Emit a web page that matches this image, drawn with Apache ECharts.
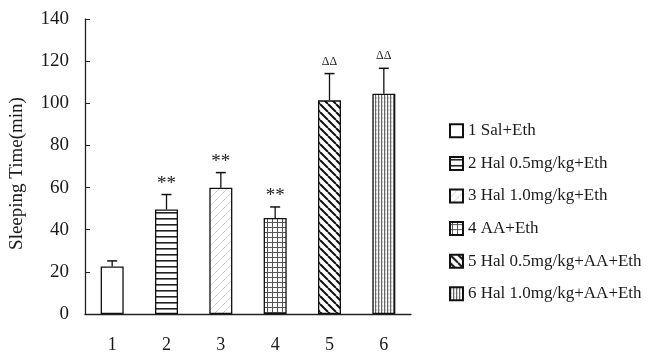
<!DOCTYPE html>
<html><head><meta charset="utf-8">
<script src="https://cdn.jsdelivr.net/npm/echarts@6/dist/echarts.min.js"></script>
<style>html,body{margin:0;padding:0;background:#fff}#c{width:651px;height:354px}</style>
</head><body><div id="c"></div>
<script>
var categories = ['1','2','3','4','5','6'];
var groupNames = ['1 Sal+Eth','2 Hal 0.5mg/kg+Eth','3 Hal 1.0mg/kg+Eth','4 AA+Eth','5 Hal 0.5mg/kg+AA+Eth','6 Hal 1.0mg/kg+AA+Eth'];
var means = [22.6, 49.6, 59.9, 45.6, 101.4, 104.5];
var errors = [2.6, 7.1, 7.2, 5.2, 12.7, 12.1];
var marks = ['', '**', '**', '**', '\u0394\u0394', '\u0394\u0394'];
var yTicks = {min: 0, max: 140, interval: 20};

function pat(size, draw) {
  var c = document.createElement('canvas');
  c.width = size[0]; c.height = size[1];
  var g = c.getContext('2d');
  g.fillStyle = '#fff'; g.fillRect(0, 0, size[0], size[1]);
  draw(g, size[0], size[1]);
  return {image: c, repeat: 'repeat'};
}
var fills = [
  '#ffffff',
  pat([6, 6], function (g, w, h) { g.fillStyle = '#222'; g.fillRect(0, 2, w, 1.6); }),
  pat([8, 8], function (g, w, h) {
    g.strokeStyle = '#b5b5b5'; g.lineWidth = 0.9; g.setLineDash([2, 1]);
    for (var k = -1; k <= 1; k++) { g.beginPath(); g.moveTo(k * w, h); g.lineTo(k * w + w, 0); g.stroke(); }
  }),
  pat([5, 5], function (g, w, h) { g.fillStyle = '#555'; g.fillRect(0, 2, w, 1); g.fillRect(2, 0, 1, h); }),
  pat([8, 8], function (g, w, h) {
    g.strokeStyle = '#111'; g.lineWidth = 2;
    for (var k = -1; k <= 1; k++) { g.beginPath(); g.moveTo(k * w, 0); g.lineTo(k * w + w, h); g.stroke(); }
  }),
  pat([3, 4], function (g, w, h) { g.fillStyle = '#666'; g.fillRect(0, 0, 1.2, h); g.fillStyle = '#bbb'; g.fillRect(1.2, 1, 1, 2); })
];

var FONT = 'Liberation Serif';
var series = groupNames.map(function (name, i) {
  return {
    name: name, type: 'bar', stack: 'all', barWidth: 23,
    itemStyle: {color: fills[i], borderColor: '#111', borderWidth: 1.3},
    data: categories.map(function (c, j) { return j === i ? means[j] : '-'; }),
    z: 2
  };
});
series.push({
  type: 'custom', name: 'err', z: 3,
  data: means.map(function (m, i) { return [i, m, errors[i]]; }),
  renderItem: function (params, api) {
    var x = api.value(0), m = api.value(1), e = api.value(2);
    var p0 = api.coord([x, m]), p1 = api.coord([x, m + e]);
    var mk = marks[params.dataIndex];
    var delta = mk.indexOf('\u0394') >= 0;
    return {type: 'group', children: [
      {type: 'line', shape: {x1: p0[0], y1: p0[1], x2: p1[0], y2: p1[1]}, style: {stroke: '#111', lineWidth: 1.3}},
      {type: 'line', shape: {x1: p1[0] - 5, y1: p1[1], x2: p1[0] + 5, y2: p1[1]}, style: {stroke: '#111', lineWidth: 1.5}},
      {type: 'text', style: {text: mk, x: p1[0], y: p1[1] - (delta ? 6 : 1), align: 'center', verticalAlign: 'bottom',
        font: (delta ? '12px ' : '19px ') + FONT, fill: '#222'}}
    ]};
  }
});

var chart = echarts.init(document.getElementById('c'), null, {renderer: 'canvas'});
chart.setOption({
  animation: false,
  backgroundColor: '#fff',
  grid: {left: 85, right: 240, top: 19, bottom: 38},
  legend: {
    data: groupNames, orient: 'vertical', left: 444, top: 117,
    itemWidth: 13, itemHeight: 13, itemGap: 15, icon: 'rect',
    textStyle: {fontFamily: FONT, fontSize: 17, color: '#1a1a1a', lineHeight: 17.6},
    selectedMode: false
  },
  xAxis: {
    type: 'category', data: categories,
    axisLine: {lineStyle: {color: '#222', width: 1.3}},
    axisTick: {inside: true, length: 5, lineStyle: {color: '#222'}},
    axisLabel: {fontFamily: FONT, fontSize: 18, color: '#1a1a1a', margin: 22}
  },
  yAxis: {
    type: 'value', min: yTicks.min, max: yTicks.max, interval: yTicks.interval,
    name: 'Sleeping Time(min)', nameLocation: 'middle', nameGap: 58, nameRotate: 90,
    nameTextStyle: {fontFamily: FONT, fontSize: 19, color: '#1a1a1a', padding: [0, 14, 0, 0]},
    splitLine: {show: false},
    axisLine: {show: true, lineStyle: {color: '#222', width: 1.3}},
    axisTick: {show: true, inside: true, length: 5, lineStyle: {color: '#222'}},
    axisLabel: {fontFamily: FONT, fontSize: 19, color: '#1a1a1a', margin: 16}
  },
  series: series
});
</script></body></html>
